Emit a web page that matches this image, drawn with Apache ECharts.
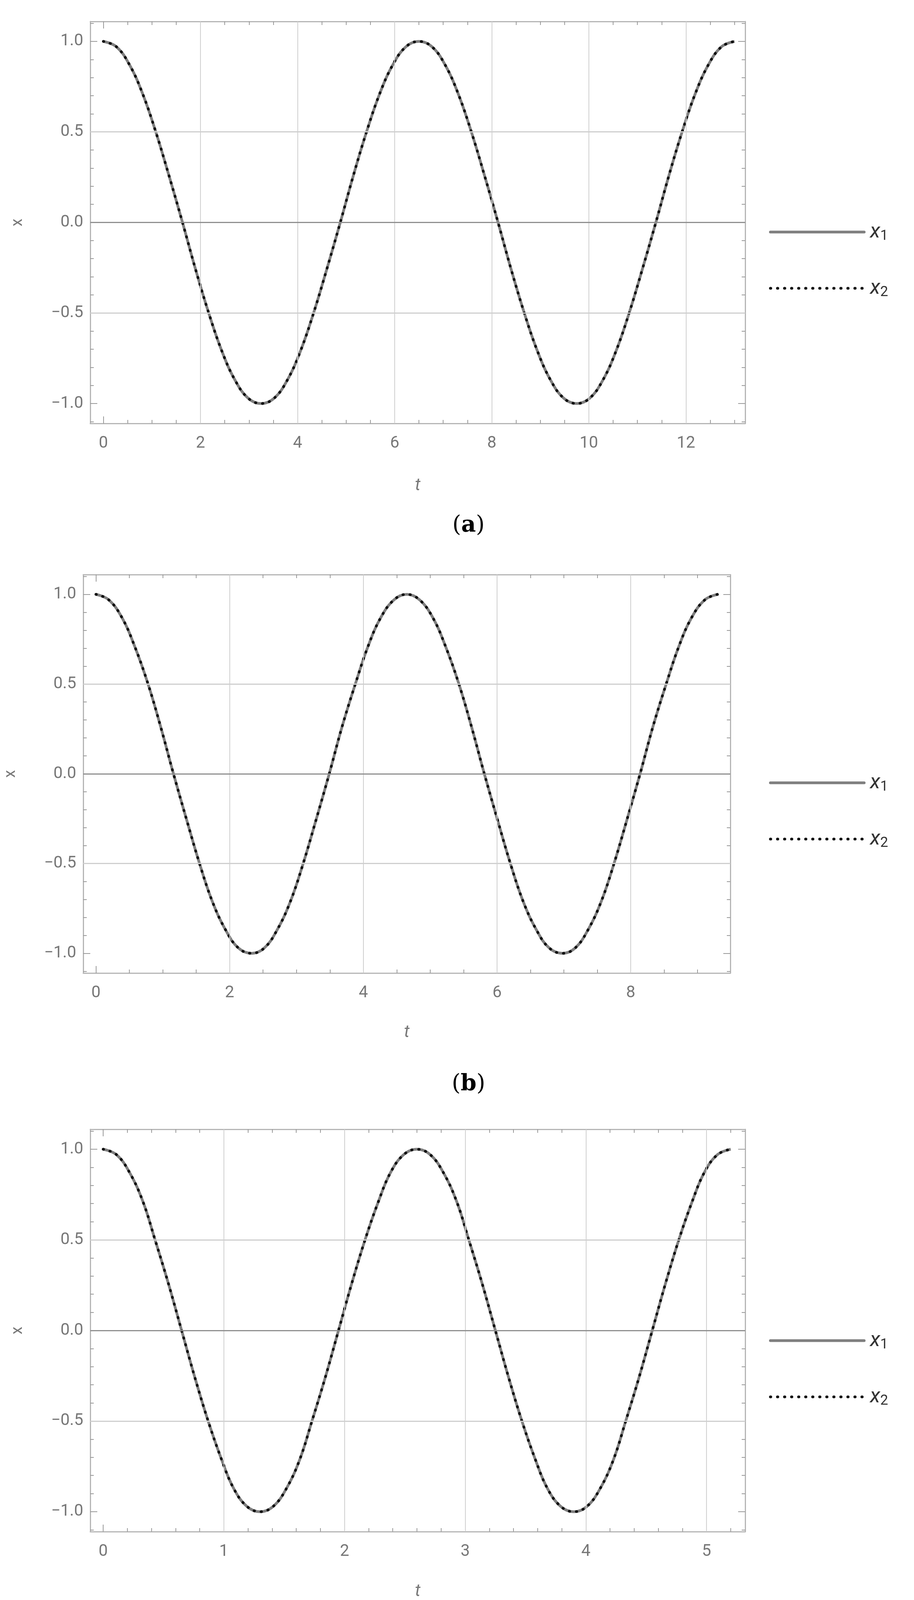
<!DOCTYPE html>
<html>
<head>
<meta charset="utf-8">
<script src="https://cdn.jsdelivr.net/npm/echarts@6/dist/echarts.min.js"></script>
<style>
  html, body { margin: 0; padding: 0; background: #fff; overflow: hidden; }
  #chart { width: 2339px; height: 4255px; }
</style>
</head>
<body>
<div id="chart"></div>
<script>
// valeurs : x(t) pour les trois cas, sur deux périodes
const xValues = [1, 0.97, 0.87, 0.71, 0.5, 0.26, 0, -0.26, -0.5, -0.71, -0.87, -0.97, -1, -0.97, -0.87, -0.71, -0.5, -0.26, 0, 0.26, 0.5, 0.71, 0.87, 0.97, 1,
                 0.97, 0.87, 0.71, 0.5, 0.26, 0, -0.26, -0.5, -0.71, -0.87, -0.97, -1, -0.97, -0.87, -0.71, -0.5, -0.26, 0, 0.26, 0.5, 0.71, 0.87, 0.97, 1];

const tA = [0, 0.27, 0.54, 0.81, 1.08, 1.35, 1.63, 1.9, 2.17, 2.44, 2.71, 2.98, 3.25, 3.52, 3.79, 4.06, 4.33, 4.6, 4.88, 5.15, 5.42, 5.69, 5.96, 6.23, 6.5,
            6.77, 7.04, 7.31, 7.58, 7.85, 8.13, 8.4, 8.67, 8.94, 9.21, 9.48, 9.75, 10.02, 10.29, 10.56, 10.83, 11.1, 11.38, 11.65, 11.92, 12.19, 12.46, 12.73, 13.0];
const tB = [0, 0.19, 0.39, 0.58, 0.78, 0.97, 1.16, 1.36, 1.55, 1.74, 1.94, 2.13, 2.33, 2.52, 2.71, 2.91, 3.1, 3.29, 3.49, 3.68, 3.88, 4.07, 4.26, 4.46, 4.65,
            4.84, 5.04, 5.23, 5.43, 5.62, 5.81, 6.01, 6.2, 6.39, 6.59, 6.78, 6.98, 7.17, 7.36, 7.56, 7.75, 7.94, 8.14, 8.33, 8.53, 8.72, 8.91, 9.11, 9.3];
const tC = [0, 0.11, 0.22, 0.33, 0.43, 0.54, 0.65, 0.76, 0.87, 0.98, 1.08, 1.19, 1.3, 1.41, 1.52, 1.63, 1.73, 1.84, 1.95, 2.06, 2.17, 2.28, 2.38, 2.49, 2.6,
            2.71, 2.82, 2.93, 3.03, 3.14, 3.25, 3.36, 3.47, 3.58, 3.68, 3.79, 3.9, 4.01, 4.12, 4.23, 4.33, 4.44, 4.55, 4.66, 4.77, 4.88, 4.98, 5.09, 5.2];

const ticksA = [0, 2, 4, 6, 8, 10, 12];
const ticksB = [0, 2, 4, 6, 8];
const ticksC = [0, 1, 2, 3, 4, 5];
const yTicks = [-1, -0.5, 0, 0.5, 1];
const yGrid = [-0.5, 0.5];
const captions = ['a', 'b', 'c'];

const chart = echarts.init(document.getElementById('chart'));

const panels = [
  { t: tA, ticks: ticksA, minorStep: 0.5, xMin: -0.27, xMax: 13.22, left: 231, top: 55, width: 1676, height: 1029, nameGap: 138, legendTop: 562, capTop: 1312 },
  { t: tB, ticks: ticksB, minorStep: 0.5, xMin: -0.19, xMax: 9.49, left: 213, top: 1471, width: 1656, height: 1020, nameGap: 131, legendTop: 1972, capTop: 2742 },
  { t: tC, ticks: ticksC, minorStep: 0.2, xMin: -0.107, xMax: 5.32, left: 231, top: 2891, width: 1676, height: 1030, nameGap: 132, legendTop: 3400, capTop: 4148 }
];

const FONT = '"Liberation Sans Narrow", "Roboto", sans-serif';
const FRAME = '#b5b5b5';

function range(a, b, step) {
  const out = [];
  for (let v = a; v <= b + 1e-9; v += step) out.push(Math.round(v * 1000) / 1000);
  return out;
}

const grid = [], xAxis = [], yAxis = [], series = [], legend = [], title = [];

panels.forEach((p, g) => {
  grid.push({ left: p.left, top: p.top, width: p.width, height: p.height });
  const xMinor = range(Math.ceil(p.xMin / p.minorStep) * p.minorStep, p.xMax, p.minorStep);
  const yMinor = range(-1.1, 1.1, 0.1);

  const base = (pos, vals, len, labels) => ({
    type: 'value', gridIndex: g, position: pos,
    axisLine: { show: labels !== null, onZero: false, lineStyle: { color: FRAME, width: 3 } },
    axisTick: { show: true, inside: true, length: len, customValues: vals, lineStyle: { color: '#999', width: 2 } },
    axisLabel: labels ? labels : { show: false },
    splitLine: { show: false }
  });

  const xLab = { show: true, customValues: p.ticks, margin: 30, fontSize: 42, color: '#777', fontFamily: FONT };
  const yLab = { show: true, customValues: yTicks, margin: 18, fontSize: 42, color: '#777', fontFamily: FONT,
                 formatter: v => v.toFixed(1).replace('-', '\u2212') };

  const xs = [
    Object.assign(base('bottom', p.ticks, 18, xLab), { name: 't', nameLocation: 'middle', nameGap: p.nameGap,
      nameTextStyle: { fontSize: 44, fontStyle: 'italic', color: '#777', fontFamily: FONT } }),
    base('bottom', xMinor, 9, null),
    base('top', p.ticks, 18, false),
    base('top', xMinor, 9, null)
  ];
  const ys = [
    Object.assign(base('left', yTicks, 18, yLab), { name: 'x', nameLocation: 'middle', nameGap: 165,
      nameTextStyle: { fontSize: 40, color: '#777', fontFamily: FONT } }),
    base('left', yMinor, 9, null),
    base('right', yTicks, 18, false),
    base('right', yMinor, 9, null)
  ];
  xs.forEach(a => { a.min = p.xMin; a.max = p.xMax; xAxis.push(a); });
  ys.forEach(a => { a.min = -1.11; a.max = 1.11; yAxis.push(a); });

  const ai = g * 4;
  const pts = p.t.map((t, i) => [t, xValues[i]]);
  const id = 'p' + g;

  // lignes de grille (style Mathematica)
  series.push({
    type: 'line', xAxisIndex: ai, yAxisIndex: ai, data: [], silent: true,
    markLine: {
      silent: true, symbol: 'none', label: { show: false }, animation: false,
      data: p.ticks.filter(v => v !== 0).map(v => ({ xAxis: v, lineStyle: { color: '#cfcfcf', width: 2, type: 'solid' } }))
        .concat(yGrid.map(v => ({ yAxis: v, lineStyle: { color: '#cfcfcf', width: 3, type: 'solid' } })))
        .concat([{ yAxis: 0, lineStyle: { color: '#8f8f8f', width: 3, type: 'solid' } }])
    }
  });

  series.push({
    name: id + 'x1', type: 'line', xAxisIndex: ai, yAxisIndex: ai, data: pts, smooth: 0.4,
    symbol: 'none', lineStyle: { color: '#7f7f7f', width: 7 }, itemStyle: { color: '#7f7f7f' }
  });
  series.push({
    name: id + 'x2', type: 'line', xAxisIndex: ai, yAxisIndex: ai, data: pts, smooth: 0.4,
    symbol: 'none', lineStyle: { color: '#111', width: 7, type: [1, 17], cap: 'round' }, itemStyle: { color: '#111' }
  });

  legend.push({
    data: [id + 'x1', id + 'x2'], orient: 'vertical', left: 1963, top: p.legendTop,
    itemWidth: 240, itemHeight: 30, itemGap: 88, selectedMode: false,
    itemStyle: { opacity: 0 },
    lineStyle: { width: 7, cap: 'round' },
    formatter: n => '{i|x}{s|' + n.slice(-1) + '}',
    textStyle: {
      padding: [0, 0, 0, 10],
      rich: {
        i: { fontSize: 54, color: '#333', fontFamily: FONT, fontStyle: 'italic' },
        s: { fontSize: 36, color: '#333', fontFamily: FONT, padding: [22, 0, 0, 0] }
      }
    }
  });

  title.push({
    text: '({b|' + captions[g] + '})', left: 1194, top: p.capTop, textAlign: 'center',
    textStyle: {
      fontSize: 58, fontWeight: 'normal', color: '#000', fontFamily: '"DejaVu Serif", "Liberation Serif", serif',
      rich: { b: { fontSize: 58, fontWeight: 'bold', color: '#000', fontFamily: '"DejaVu Serif", "Liberation Serif", serif' } }
    }
  });
});

chart.setOption({
  animation: false,
  backgroundColor: '#fff',
  title, grid, xAxis, yAxis, series, legend
});

window.addEventListener('resize', () => chart.resize());
</script>
</body>
</html>
